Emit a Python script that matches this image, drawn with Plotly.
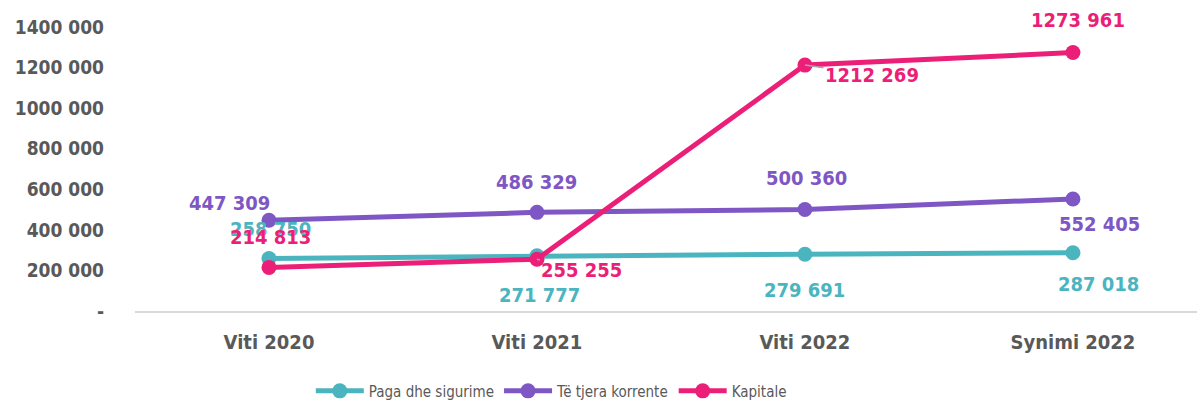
import plotly.graph_objects as go

categories = ["Viti 2020", "Viti 2021", "Viti 2022", "Synimi 2022"]
paga = [258750, 271777, 279691, 287018]
tjera = [447309, 486329, 500360, 552405]
kapitale = [214813, 255255, 1212269, 1273961]
y_ticks = [0, 200000, 400000, 600000, 800000, 1000000, 1200000, 1400000]
y_tick_labels = ["-", "200 000", "400 000", "600 000", "800 000", "1000 000", "1200 000", "1400 000"]

series_names = ["Paga dhe sigurime", "Të tjera korrente", "Kapitale"]
colors = ["#4BB5BF", "#7E57C5", "#EC1F78"]

# label offsets in pixels (xshift, yshift) per series per category
label_offsets = [
    [(2, 30), (3, -39), (0, -36), (26, -31)],
    [(-39, 17), (0, 30), (2, 32), (27, -25)],
    [(2, 30), (45, -11), (67, -10), (5, 33)],
]
# which labels have a leader line
leader = [
    [False, False, False, False],
    [False, False, False, False],
    [False, True, True, False],
]

FONT = "DejaVu Sans Condensed, Liberation Sans Narrow, Arial Narrow, sans-serif"

fig = go.Figure()
all_series = [paga, tjera, kapitale]
for name, vals, col in zip(series_names, all_series, colors):
    fig.add_trace(go.Scatter(
        x=categories, y=vals, name=name, mode="lines+markers",
        line=dict(color=col, width=5),
        marker=dict(color=col, size=15),
        hoverinfo="skip",
    ))

def fmt(v):
    s = str(v)
    return s[:-3] + " " + s[-3:] if len(s) > 3 else s

for s, (vals, col) in enumerate(zip(all_series, colors)):
    for i, v in enumerate(vals):
        xs, ys = label_offsets[s][i]
        f = dict(family=FONT, size=20, color=col, weight="bold")
        if leader[s][i]:
            fig.add_annotation(
                x=categories[i], y=v, text=fmt(v), showarrow=True,
                ax=xs, ay=-ys, arrowhead=0, arrowwidth=1.5,
                arrowcolor="#A6A6A6", standoff=0, font=f,
            )
        else:
            fig.add_annotation(
                x=categories[i], y=v, text=fmt(v), showarrow=False,
                xshift=xs, yshift=ys, font=f,
            )

fig.update_layout(
    width=1198, height=402,
    margin=dict(l=135, r=1, t=27, b=91, autoexpand=False),
    plot_bgcolor="white", paper_bgcolor="white",
    font=dict(family=FONT, size=19, color="#595959"),
    showlegend=True,
    legend=dict(
        orientation="h", x=0.392, xanchor="center", y=-0.282, yanchor="middle",
        font=dict(family=FONT, size=15, color="#595959"),
        itemwidth=48, traceorder="normal",
    ),
    xaxis=dict(
        type="category", range=[-0.5, 3.463],
        showline=True, linecolor="#D9D9D9", linewidth=2,
        showgrid=False, ticks="", automargin=False,
        tickfont=dict(family=FONT, size=20, color="#595959", weight="bold"),
        ticklabelstandoff=12,
    ),
    yaxis=dict(
        range=[0, 1400000], tickvals=y_ticks, ticktext=y_tick_labels,
        showgrid=False, zeroline=False, showline=False, ticks="", automargin=False,
        tickfont=dict(family=FONT, size=19, color="#595959", weight="bold"),
        ticklabelstandoff=30,
    ),
)

fig.write_html("out.html")
